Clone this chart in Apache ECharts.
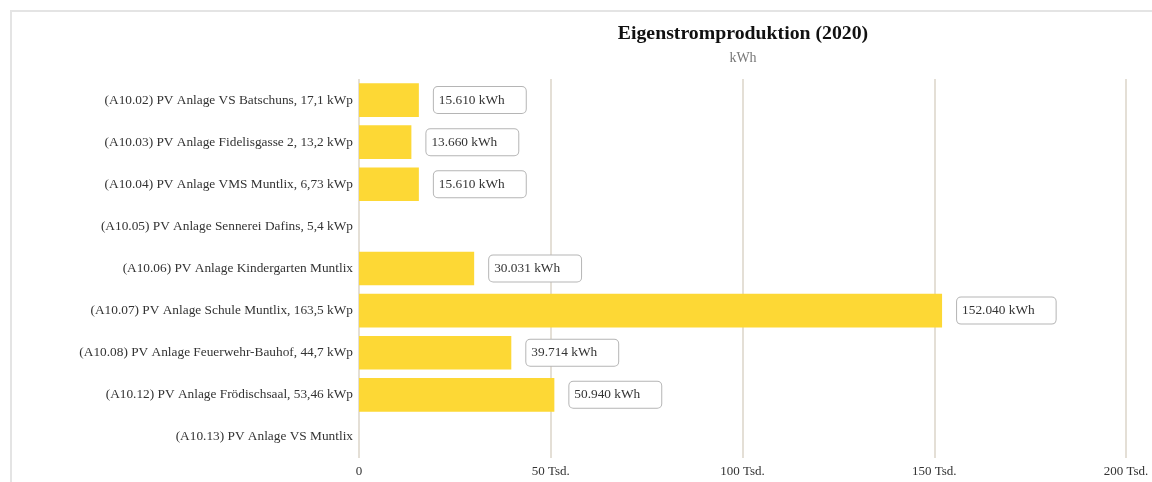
<!DOCTYPE html>
<html>
<head>
<meta charset="utf-8">
<script src="https://cdn.jsdelivr.net/npm/echarts@6/dist/echarts.min.js"></script>
<style>
  html, body { margin: 0; padding: 0; background: #fff; }
  #chart { width: 1152px; height: 482px; }
  #frame {
    position: absolute; left: 10px; top: 10px; width: 1200px; height: 500px;
    border-left: 2px solid #e4e4e4; border-top: 2px solid #e4e4e4;
    pointer-events: none;
  }
</style>
</head>
<body>
<div id="chart"></div>
<div id="frame"></div>
<script>
// Eigenstromproduktion 2020, Werte in kWh
var categories = [
  '(A10.02) PV Anlage VS Batschuns, 17,1 kWp',
  '(A10.03) PV Anlage Fidelisgasse 2, 13,2 kWp',
  '(A10.04) PV Anlage VMS Muntlix, 6,73 kWp',
  '(A10.05) PV Anlage Sennerei Dafins, 5,4 kWp',
  '(A10.06) PV Anlage Kindergarten Muntlix',
  '(A10.07) PV Anlage Schule Muntlix, 163,5 kWp',
  '(A10.08) PV Anlage Feuerwehr-Bauhof, 44,7 kWp',
  '(A10.12) PV Anlage Frödischsaal, 53,46 kWp',
  '(A10.13) PV Anlage VS Muntlix'
];
var produktion = [15610, 13660, 15610, null, 30031, 152040, 39714, 50940, null];

function fmt(v) {
  return String(v).replace(/\B(?=(\d{3})+(?!\d))/g, '.');
}

var chart = echarts.init(document.getElementById('chart'));
var option = {
  animation: false,
  title: {
    text: 'Eigenstromproduktion (2020)',
    subtext: 'kWh',
    left: 738,
    textAlign: 'center',
    top: 19,
    itemGap: 7,
    textStyle: { fontFamily: 'Liberation Serif', fontWeight: 'bold', fontSize: 19.8, color: '#111' },
    subtextStyle: { fontFamily: 'Liberation Serif', fontSize: 14, color: '#777' }
  },
  grid: {
    left: 359,
    right: 26,
    top: 79,
    bottom: 24
  },
  xAxis: {
    type: 'value',
    min: 0,
    max: 200000,
    interval: 50000,
    axisLine: { show: false },
    axisTick: { show: false },
    splitLine: { lineStyle: { color: '#e4dfd6', width: 2 } },
    axisLabel: {
      margin: 7,
      color: '#333',
      fontFamily: 'Liberation Serif',
      fontSize: 13,
      formatter: function (v) { return v === 0 ? '0' : (v / 1000) + ' Tsd.'; }
    }
  },
  yAxis: {
    type: 'category',
    inverse: true,
    data: categories,
    axisLine: { show: false },
    axisTick: { show: false },
    axisLabel: {
      margin: 6,
      color: '#333',
      fontFamily: 'Liberation Serif',
      fontSize: 13.33
    }
  },
  series: [{
    type: 'bar',
    data: produktion,
    barCategoryGap: '20%',
    itemStyle: { color: '#fdd835' },
    label: {
      show: true,
      position: 'right',
      distance: 15,
      formatter: function (p) { return fmt(p.value) + ' kWh'; },
      fontFamily: 'Liberation Serif',
      fontSize: 13.33,
      lineHeight: 16,
      color: '#333',
      backgroundColor: '#fff',
      borderColor: '#b5b5b5',
      borderWidth: 1,
      borderRadius: 4,
      padding: [5, 21, 5, 5]
    }
  }]
};
chart.setOption(option);
</script>
</body>
</html>
